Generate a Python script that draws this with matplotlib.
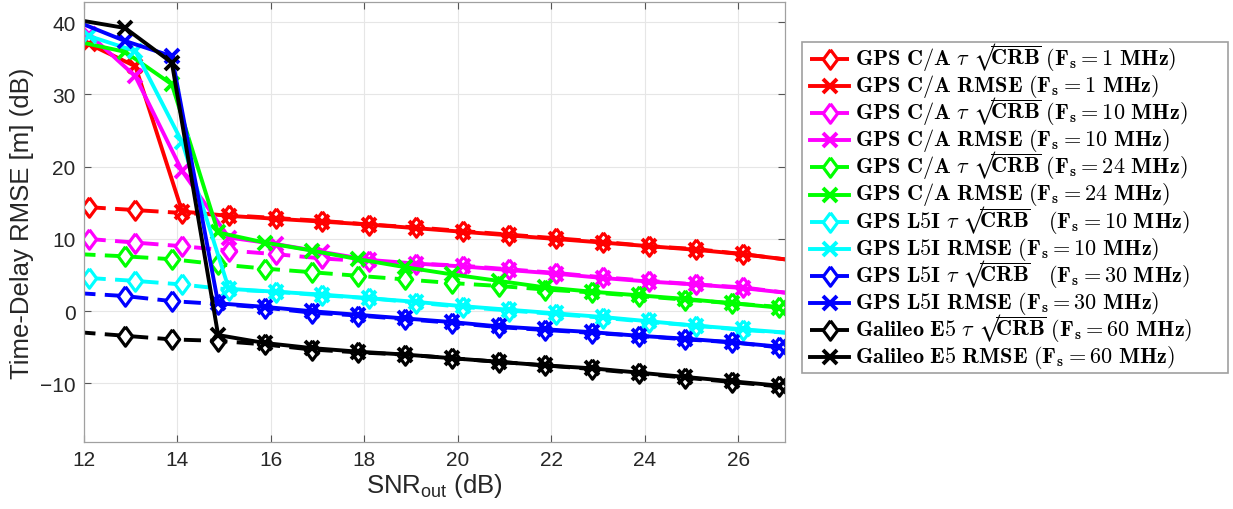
import matplotlib
matplotlib.use("Agg")
import matplotlib.pyplot as plt
from matplotlib.font_manager import FontProperties
from matplotlib.lines import Line2D
from matplotlib.patches import Rectangle

# ---------------- data ----------------
# SNR_out grids (dB) of the two groups of curves
snr_a = [12.1, 13.1, 14.1, 15.1, 16.1, 17.1, 18.1, 19.1, 20.1, 21.1, 22.1, 23.1, 24.1, 25.1, 26.1, 27.1]
snr_b = [11.88, 12.88, 13.88, 14.87, 15.87, 16.87, 17.87, 18.87, 19.87, 20.87, 21.87, 22.87, 23.87, 24.87, 25.87, 26.87]

ca1_crb = [14.4, 14.0, 13.6, 13.3, 12.9, 12.5, 12.0, 11.6, 11.1, 10.6, 10.1, 9.6, 9.0, 8.6, 7.9, 7.1]
ca1_rmse = [37.0, 33.9, 13.8, 13.2, 12.8, 12.4, 12.0, 11.5, 11.0, 10.5, 10.0, 9.5, 9.0, 8.5, 7.9, 7.1]
ca10_crb = [10.0, 9.5, 9.0, 8.4, 7.9, 7.3, 6.9, 6.6, 6.3, 5.8, 5.3, 4.7, 4.2, 3.7, 3.3, 2.5]
ca10_rmse = [38.4, 32.5, 19.4, 10.2, 9.3, 8.2, 7.1, 6.6, 6.2, 5.7, 5.2, 4.6, 4.1, 3.7, 3.2, 2.5]
ca24_crb = [7.9, 7.6, 7.2, 6.5, 5.9, 5.4, 4.9, 4.4, 3.9, 3.5, 3.0, 2.6, 2.1, 1.6, 1.1, 0.6]
ca24_rmse = [37.3, 35.9, 31.4, 10.9, 9.5, 8.4, 7.2, 6.1, 5.1, 4.2, 3.3, 2.7, 2.2, 1.7, 1.1, 0.5]
l5_10_crb = [4.6, 4.2, 3.7, 3.0, 2.7, 2.2, 1.8, 1.2, 0.6, 0.1, -0.4, -0.9, -1.5, -2.0, -2.6, -3.0]
l5_10_rmse = [38.1, 36.0, 23.4, 3.1, 2.7, 2.3, 1.8, 1.3, 0.7, 0.2, -0.3, -0.8, -1.4, -2.0, -2.5, -3.0]
l5_30_crb = [2.5, 2.1, 1.4, 1.0, 0.5, -0.2, -0.6, -1.1, -1.6, -2.2, -2.6, -3.0, -3.4, -3.9, -4.3, -5.0]
l5_30_rmse = [40.0, 37.4, 35.3, 1.1, 0.6, 0.0, -0.5, -1.0, -1.5, -2.1, -2.5, -2.9, -3.4, -3.8, -4.3, -4.9]
e5_crb = [-2.9, -3.4, -3.9, -4.1, -4.6, -5.3, -5.7, -6.0, -6.5, -7.0, -7.5, -8.0, -8.6, -9.2, -9.8, -10.4]
e5_rmse = [40.3, 39.2, 34.4, -3.3, -4.4, -5.1, -5.6, -6.0, -6.5, -7.0, -7.5, -7.9, -8.5, -9.1, -9.7, -10.3]

SQ = '\u221a' + r'\!\overline{\mathbf{CRB}}'
labels = [
    r'$\mathbf{GPS\ C/A}\ \tau\ ' + SQ + r'\ (\mathbf{F}_\mathbf{s} = \mathbf{1\ MHz})$',
    r'$\mathbf{GPS\ C/A\ RMSE}\ (\mathbf{F}_\mathbf{s} = \mathbf{1\ MHz})$',
    r'$\mathbf{GPS\ C/A}\ \tau\ ' + SQ + r'\ (\mathbf{F}_\mathbf{s} = \mathbf{10\ MHz})$',
    r'$\mathbf{GPS\ C/A\ RMSE}\ (\mathbf{F}_\mathbf{s} = \mathbf{10\ MHz})$',
    r'$\mathbf{GPS\ C/A}\ \tau\ ' + SQ + r'\ (\mathbf{F}_\mathbf{s} = \mathbf{24\ MHz})$',
    r'$\mathbf{GPS\ C/A\ RMSE}\ (\mathbf{F}_\mathbf{s} = \mathbf{24\ MHz})$',
    r'$\mathbf{GPS\ L5I}\ \tau\ ' + SQ + r'\quad (\mathbf{F}_\mathbf{s} = \mathbf{10\ MHz})$',
    r'$\mathbf{GPS\ L5I\ RMSE}\ (\mathbf{F}_\mathbf{s} = \mathbf{10\ MHz})$',
    r'$\mathbf{GPS\ L5I}\ \tau\ ' + SQ + r'\quad (\mathbf{F}_\mathbf{s} = \mathbf{30\ MHz})$',
    r'$\mathbf{GPS\ L5I\ RMSE}\ (\mathbf{F}_\mathbf{s} = \mathbf{30\ MHz})$',
    r'$\mathbf{Galileo\ E5}\ \tau\ ' + SQ + r'\ (\mathbf{F}_\mathbf{s} = \mathbf{60\ MHz})$',
    r'$\mathbf{Galileo\ E5\ RMSE}\ (\mathbf{F}_\mathbf{s} = \mathbf{60\ MHz})$',
]

series = [
    (snr_a, ca1_crb, '#ff0000', 'crb'),
    (snr_a, ca1_rmse, '#ff0000', 'rmse'),
    (snr_a, ca10_crb, '#ff00ff', 'crb'),
    (snr_a, ca10_rmse, '#ff00ff', 'rmse'),
    (snr_b, ca24_crb, '#00ff00', 'crb'),
    (snr_b, ca24_rmse, '#00ff00', 'rmse'),
    (snr_a, l5_10_crb, '#00ffff', 'crb'),
    (snr_a, l5_10_rmse, '#00ffff', 'rmse'),
    (snr_b, l5_30_crb, '#0000ff', 'crb'),
    (snr_b, l5_30_rmse, '#0000ff', 'rmse'),
    (snr_b, e5_crb, '#000000', 'crb'),
    (snr_b, e5_rmse, '#000000', 'rmse'),
]

xticks = [12, 14, 16, 18, 20, 22, 24, 26]
yticks = [-10, 0, 10, 20, 30, 40]
XLIM = (12, 27)
YLIM = (-18.1, 42.8)

# ---------------- figure ----------------
plt.rcParams['font.family'] = ['Liberation Sans', 'DejaVu Sans']
plt.rcParams['mathtext.fontset'] = 'custom'
plt.rcParams['mathtext.rm'] = 'Liberation Sans'

W, H = 1233, 510
fig = plt.figure(figsize=(W / 100, H / 100), dpi=100)
ax = fig.add_axes([84 / W, 1 - 443 / H, (785 - 84) / W, (443 - 3) / H])

DIAMOND = [(0, 1), (0.74, 0), (0, -1), (-0.74, 0), (0, 1)]
LW = 2.8


def style(col, kind):
    if kind == 'crb':
        return dict(color=col, lw=LW, ls='--', dashes=(4.4, 2.4),
                    marker=DIAMOND, ms=14, mfc='white', mec=col, mew=2.3)
    return dict(color=col, lw=LW, ls='-', marker='x', ms=10, mec=col, mew=2.8)


for xs, ys, col, kind in series:
    inside = [i for i, x in enumerate(xs) if XLIM[0] <= x <= XLIM[1]]
    ax.plot(xs, ys, markevery=inside, **style(col, kind))

ax.set_xlim(*XLIM)
ax.set_ylim(*YLIM)
ax.set_xticks(xticks)
ax.set_yticks(yticks)
ax.grid(True, color='#e6e6e6', lw=0.8)
ax.set_axisbelow(True)
for s in ax.spines.values():
    s.set_color('#a0a0a0')
    s.set_linewidth(0.9)
ax.tick_params(direction='in', top=True, right=True, length=5, width=0.8,
               color='#555555', labelsize=15, labelcolor='#262626', pad=6)

ax.set_xlabel(r'SNR$_{\mathregular{out}}$ (dB)', fontsize=18.5, color='#262626', labelpad=1)
ax.set_ylabel('Time-Delay RMSE [m] (dB)', fontsize=18.5, color='#262626', labelpad=4)

# ---------------- legend (drawn row by row for even spacing) ----------------
fx = lambda px: px / W
fy = lambda py: 1 - py / H
box_l, box_t, box_r, box_b = 802, 43, 1228, 374
fig.add_artist(Rectangle((fx(box_l), fy(box_b)), fx(box_r - box_l), (box_b - box_t) / H,
                         transform=fig.transFigure, facecolor='white',
                         edgecolor='#a0a0a0', lw=1.2, zorder=2))
row0, step = 60, 27.1
lfont = FontProperties(size=16, math_fontfamily='cm')
for i, ((xs, ys, col, kind), lab) in enumerate(zip(series, labels)):
    yc = row0 + i * step
    st = style(col, kind)
    st['markevery'] = [1]
    fig.add_artist(Line2D([fx(810), fx(829.5), fx(849)], [fy(yc)] * 3,
                          transform=fig.transFigure, zorder=3, **st))
    fig.text(fx(855), fy(yc + 5), lab, fontproperties=lfont, color='black',
             ha='left', va='baseline', zorder=4)

fig.savefig('out.png', dpi=100)
